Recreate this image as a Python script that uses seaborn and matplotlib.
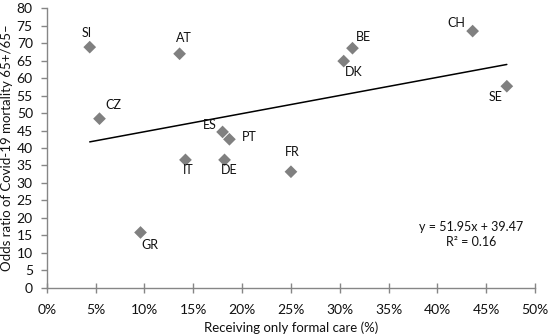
import numpy as np
import pandas as pd
import seaborn as sns
import matplotlib
matplotlib.use("Agg")
import matplotlib.pyplot as plt
from matplotlib.ticker import PercentFormatter, MultipleLocator

countries = ["SI", "AT", "CZ", "ES", "PT", "IT", "DE", "BE", "DK", "CH", "SE", "FR", "GR"]
formal_care = [0.044, 0.136, 0.054, 0.180, 0.187, 0.142, 0.182, 0.313, 0.304, 0.436, 0.471, 0.250, 0.096]
odds_ratio = [68.9, 67.0, 48.4, 44.6, 42.5, 36.6, 36.6, 68.6, 64.9, 73.5, 57.7, 33.2, 15.8]
slope = 51.95
intercept = 39.47
r_squared = 0.16

# label offsets in points (layout only)
label_offsets = {
    "SI": (-2, 10.5), "AT": (3, 11), "CZ": (10, 10), "ES": (-9, 5), "PT": (14, 1.5),
    "IT": (2, -7.5), "DE": (3, -7.5), "BE": (8, 8), "DK": (7, -7.5), "CH": (-12, 6),
    "SE": (-8, -8), "FR": (1, 14), "GR": (7, -9),
}

df = pd.DataFrame({"country": countries, "x": formal_care, "y": odds_ratio})

sns.set_theme(style="white")
plt.rcParams["font.family"] = ["Lato", "DejaVu Sans"]

fig = plt.figure(figsize=(5.5, 3.36), dpi=100)
ax = fig.add_axes([0.085, 0.144, 0.888, 0.831])

sns.scatterplot(data=df, x="x", y="y", ax=ax, marker="D", color="#808080",
                s=42, edgecolor="none", zorder=3)

xl = np.array([df["x"].min(), df["x"].max()])
sns.lineplot(x=xl, y=slope * xl + intercept, ax=ax, color="black", linewidth=1.1, zorder=2)

for _, r in df.iterrows():
    dx, dy = label_offsets[r["country"]]
    ax.annotate(r["country"], (r["x"], r["y"]), xytext=(dx, dy), textcoords="offset points",
                ha="center", va="center", fontsize=9, color="#111111")

ax.text(0.869, 0.19, f"y = {slope:.2f}x + {intercept:.2f}\nR\u00b2 = {r_squared:.2f}",
        transform=ax.transAxes, ha="center", va="center", fontsize=9, linespacing=1.25,
        color="#111111")

ax.set_xlim(0, 0.5)
ax.set_ylim(0, 80)
ax.xaxis.set_major_locator(MultipleLocator(0.05))
ax.xaxis.set_major_formatter(PercentFormatter(1.0, decimals=0))
ax.yaxis.set_major_locator(MultipleLocator(5))

for s in ["top", "right"]:
    ax.spines[s].set_visible(False)
for s in ["left", "bottom"]:
    ax.spines[s].set_color("#868686")
    ax.spines[s].set_linewidth(1.0)
ax.tick_params(axis="x", direction="inout", length=7, width=1, color="#868686",
               labelsize=10, pad=8, labelcolor="#111111")
ax.tick_params(axis="y", direction="out", length=4, width=1, color="#868686",
               labelsize=10, pad=6, labelcolor="#111111")
ax.tick_params(bottom=True, left=True)

ax.set_xlabel("Receiving only formal care (%)", fontsize=9.5, labelpad=4, color="#111111")
ax.set_ylabel("Odds ratio of Covid-19 mortality 65+/65\u2013", fontsize=9.5, labelpad=2,
              color="#111111")
ax.yaxis.set_label_coords(-0.07, 0.5)

fig.savefig("out.png", dpi=100)
